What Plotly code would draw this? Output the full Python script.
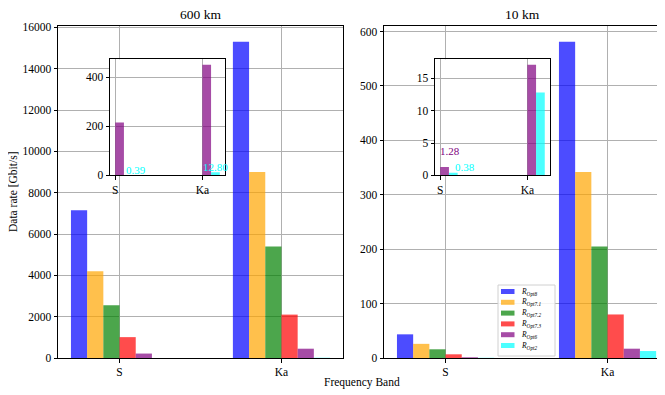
import plotly.graph_objects as go

bands = ["S", "Ka"]
series = ["Opt8", "Opt7.1", "Opt7.2", "Opt7.3", "Opt6", "Opt2"]
colors = ["rgba(0,0,255,0.7)", "rgba(255,165,0,0.7)", "rgba(0,128,0,0.7)",
          "rgba(255,0,0,0.7)", "rgba(128,0,128,0.7)", "rgba(0,255,255,0.7)"]

left_vals = {
    "Opt8": [7150, 15300],
    "Opt7.1": [4200, 9000],
    "Opt7.2": [2550, 5400],
    "Opt7.3": [1010, 2100],
    "Opt6": [215, 450],
    "Opt2": [0.39, 12.80],
}
right_vals = {
    "Opt8": [43.5, 581],
    "Opt7.1": [26, 342],
    "Opt7.2": [16, 205],
    "Opt7.3": [6.8, 80],
    "Opt6": [1.28, 17.1],
    "Opt2": [0.38, 12.8],
}

FONT = "Liberation Serif"
pos = [0, 1]
W = 0.1

fig = go.Figure()

def label(s):
    return "<i>R</i><sub><i>" + s + "</i></sub>"

def add_main(vals, xa, ya):
    for i, s in enumerate(series):
        off = -0.25 + i * W
        fig.add_trace(go.Bar(
            x=[p + off for p in pos], y=vals[s], width=W,
            marker=dict(color=colors[i], line=dict(width=0)),
            name=label(s), xaxis=xa, yaxis=ya, showlegend=False))

def add_inset(vals, xa, ya):
    for i, s in enumerate(["Opt6", "Opt2"]):
        off = 0.05 + i * W
        fig.add_trace(go.Bar(
            x=[p + off for p in pos], y=vals[s], width=W,
            marker=dict(color=colors[4 + i], line=dict(width=0)),
            xaxis=xa, yaxis=ya, showlegend=False))

add_main(left_vals, "x", "y")
add_main(right_vals, "x2", "y2")
add_inset(left_vals, "x3", "y3")
add_inset(right_vals, "x4", "y4")

# page has an 8px body margin; figure sized to fit the window exactly
OFF = 8
W_, H_ = 665 - OFF, 395 - OFF
def fx(px): return (px - OFF) / W_
def fy(py): return 1 - (py - OFF) / H_

axis_common = dict(showline=True, linecolor="black", linewidth=1, mirror=True,
                   ticks="outside", ticklen=3.5, tickcolor="black", tickformat="d",
                   showgrid=True, gridcolor="#b0b0b0", gridwidth=0.8,
                   zeroline=False, tickfont=dict(family=FONT, size=11.5, color="black"))

lmax = max(max(v) for v in left_vals.values()) * 1.05
rmax = max(max(v) for v in right_vals.values()) * 1.05
limax = max(left_vals["Opt6"] + left_vals["Opt2"]) * 1.05
rimax = max(right_vals["Opt6"] + right_vals["Opt2"]) * 1.05

fig.update_layout(
    width=W_, height=H_, margin=dict(l=0, r=0, t=0, b=0, autoexpand=False),
    paper_bgcolor="white", plot_bgcolor="white", barmode="overlay",
    font=dict(family=FONT, color="black"), showlegend=False,
    xaxis=dict(domain=[fx(58), fx(343)], range=[-0.38, 1.38], tickvals=pos, ticktext=bands,
               anchor="y", **axis_common),
    yaxis=dict(domain=[fy(358), fy(26)], range=[0, lmax], tickvals=list(range(0, 16001, 2000)),
               anchor="x", **axis_common),
    xaxis2=dict(domain=[fx(384), fx(661)], range=[-0.38, 1.33], tickvals=pos, ticktext=bands,
                anchor="y2", **axis_common),
    yaxis2=dict(domain=[fy(358), fy(26)], range=[0, rmax], tickvals=list(range(0, 601, 100)),
                anchor="x2", **axis_common),
    xaxis3=dict(domain=[fx(110), fx(225)], range=[-0.06, 1.26], tickvals=pos, ticktext=bands,
                anchor="y3", **axis_common),
    yaxis3=dict(domain=[fy(175.3), fy(59.3)], range=[0, limax], tickvals=[0, 200, 400],
                anchor="x3", **axis_common),
    xaxis4=dict(domain=[fx(435), fx(550)], range=[-0.06, 1.26], tickvals=pos, ticktext=bands,
                anchor="y4", **axis_common),
    yaxis4=dict(domain=[fy(175.3), fy(59.3)], range=[0, rimax], tickvals=[0, 5, 10, 15],
                anchor="x4", **axis_common),
)

ann = [
    dict(text="600 km", x=fx(200), y=fy(15), xref="paper", yref="paper", showarrow=False,
         xanchor="center", yanchor="middle", font=dict(size=13.5)),
    dict(text="10 km", x=fx(522), y=fy(15), xref="paper", yref="paper", showarrow=False,
         xanchor="center", yanchor="middle", font=dict(size=13.5)),
    dict(text="Data rate [Gbit/s]", x=fx(13), y=fy(192), xref="paper", yref="paper",
         xanchor="center", yanchor="middle",
         showarrow=False, textangle=-90, font=dict(size=11.5)),
    dict(text="Frequency Band", x=fx(362), y=fy(382), xref="paper", yref="paper",
         xanchor="center", yanchor="middle",
         showarrow=False, font=dict(size=11.5)),
    dict(text=f"{left_vals['Opt2'][0]:.2f}", x=0.1, y=left_vals["Opt2"][0], xref="x3", yref="y3",
         xanchor="left", yanchor="bottom", showarrow=False, yshift=-3,
         font=dict(size=11, color="cyan")),
    dict(text=f"{left_vals['Opt2'][1]:.2f}", x=0.98, y=left_vals["Opt2"][1], xref="x3", yref="y3",
         xanchor="left", yanchor="bottom", showarrow=False, yshift=-3,
         font=dict(size=11, color="cyan")),
    dict(text=f"{right_vals['Opt6'][0]:.2f}", x=-0.02, y=3.0, xref="x4", yref="y4",
         xanchor="left", yanchor="bottom", showarrow=False, yshift=-3,
         font=dict(size=11, color="purple")),
    dict(text=f"{right_vals['Opt2'][0]:.2f}", x=0.15, y=0.45, xref="x4", yref="y4",
         xanchor="left", yanchor="bottom", showarrow=False, yshift=-3,
         font=dict(size=11, color="cyan")),
]

# compact matplotlib-like legend inside the right panel
shapes = [dict(type="rect", xref="paper", yref="paper",
               x0=fx(498), x1=fx(555), y0=fy(356), y1=fy(285),
               fillcolor="rgba(255,255,255,0.85)", line=dict(color="#d0d0d0", width=1),
               layer="above")]
row0, step = 291.5, 10.8
for i, s in enumerate(series):
    yc = row0 + i * step
    shapes.append(dict(type="rect", xref="paper", yref="paper",
                       x0=fx(501), x1=fx(514.5), y0=fy(yc + 2.5), y1=fy(yc - 2.5),
                       fillcolor=colors[i], line=dict(width=0), layer="above"))
    ann.append(dict(text=label(s), x=fx(519), y=fy(yc), xref="paper", yref="paper",
                    xanchor="left", yanchor="middle", showarrow=False,
                    font=dict(size=7.5)))

for a in ann:
    a.setdefault("font", {})
    a["font"].setdefault("family", FONT)
    a["font"].setdefault("color", "black")
fig.update_layout(annotations=ann, shapes=shapes)

fig.write_html("out.html")
